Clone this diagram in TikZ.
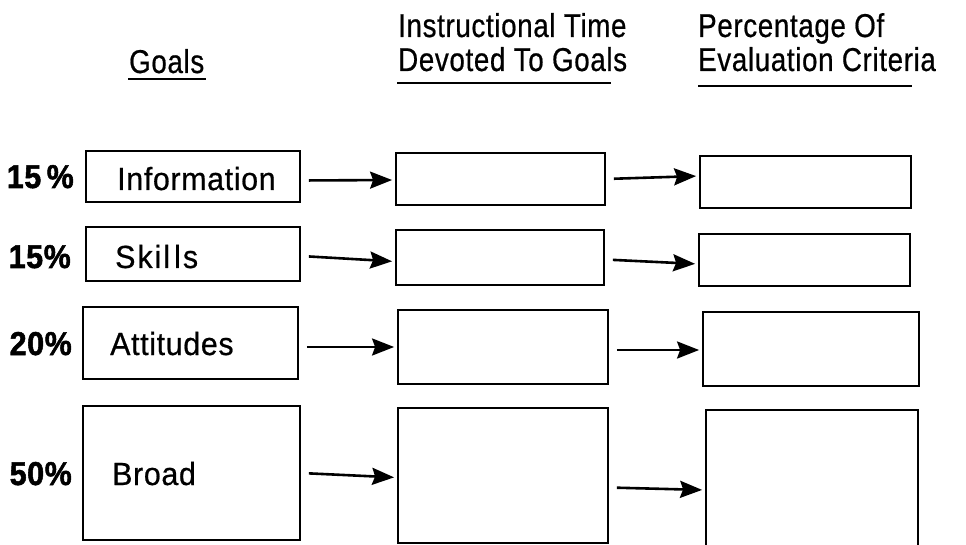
\documentclass[tikz,border=0pt]{standalone}
\usepackage{fontspec}
\setmainfont{Liberation Sans}[FakeStretch=0.84, LetterSpace=2, FakeBold=0.6]
\newfontfamily\labelfont{Liberation Sans}[FakeStretch=0.95, LetterSpace=2, FakeBold=0.6]
\newfontfamily\pctfont{Liberation Sans Bold}[FakeStretch=0.92, LetterSpace=2, FakeBold=1.6]
\usetikzlibrary{arrows.meta}
\newcommand{\lgap}[1]{\kern#1pt}
\begin{document}
\begin{tikzpicture}[x=1pt,y=-1pt,
  box/.style={draw, line width=1.8pt, inner sep=0pt},
  txt/.style={font=\fontsize{33}{34}\selectfont, inner sep=0pt, anchor=base west},
  lbl/.style={font=\labelfont\fontsize{32}{34}\selectfont, inner sep=0pt, anchor=base west},
  pct/.style={font=\pctfont\fontsize{33}{34}\selectfont, inner sep=0pt, anchor=base east},
  arr/.style={line width=2.6pt, -{Stealth[length=22pt,width=17pt,inset=3pt]}, shorten <=8pt, shorten >=3pt},
  uline/.style={line width=1.8pt}]
\useasboundingbox (0,0) rectangle (966,545);

% column headings
\node[txt] (hgoals) at (129,73) {Goals};
\node[txt, align=left] (htime) at (398,71) {Instructional Time\\Devoted To Goals};
\node[txt, align=left] (hcrit) at (698,71) {Percentage Of\\Evaluation Criteria};
\draw[uline] (128,79) -- (206,79);
\draw[uline] (397,83) -- (611,83);
\draw[uline] (698,86) -- (912,86);

% goal boxes
\node[box, minimum width=214pt, minimum height=51pt] (g1) at (193,176.5) {};
\node[box, minimum width=214pt, minimum height=54pt] (g2) at (193,254) {};
\node[box, minimum width=215pt, minimum height=72pt] (g3) at (190.5,343) {};
\node[box, minimum width=217pt, minimum height=134pt] (g4) at (191.5,473) {};
\node[lbl] (t1) at (117,190) {Information};
\node[lbl] (t2) at (115,268) {S\lgap2k\lgap2i\lgap2l\lgap4l\lgap2s};
\node[lbl] (t3) at (110,355) {Attitudes};
\node[lbl] (t4) at (112,485) {Broad};

% percentages
\node[pct] (p1) at (74,188) {15\,\%};
\node[pct] (p2) at (71,268) {15\%};
\node[pct] (p3) at (72,355) {20\%};
\node[pct] (p4) at (72,485) {50\%};

% instructional time boxes
\node[box, minimum width=209pt, minimum height=52pt] (m1) at (500.5,179) {};
\node[box, minimum width=208pt, minimum height=55pt] (m2) at (500,257.5) {};
\node[box, minimum width=210pt, minimum height=74pt] (m3) at (503,347) {};
\node[box, minimum width=210pt, minimum height=135pt] (m4) at (503,475.5) {};

% evaluation criteria boxes
\node[box, minimum width=211pt, minimum height=52pt] (e1) at (805.5,182) {};
\node[box, minimum width=211pt, minimum height=52pt] (e2) at (804.5,260) {};
\node[box, minimum width=216pt, minimum height=74pt] (e3) at (811,349) {};
\node[box, minimum width=212pt, minimum height=140pt] (e4) at (812,480) {};

% connectors
\draw[arr] ([yshift=-4pt]g1.east) -- ([yshift=-1pt]m1.west);
\draw[arr] ([yshift=-2pt]g2.east) -- ([yshift=-4pt]m2.west);
\draw[arr] ([yshift=-4pt]g3.east) -- ([yshift=0pt]m3.west);
\draw[arr] ([yshift=0pt]g4.east) -- ([yshift=-2pt]m4.west);
\draw[arr] ([yshift=0pt]m1.east) -- ([yshift=6pt]e1.west);
\draw[arr] ([yshift=-2pt]m2.east) -- ([yshift=-4pt]e2.west);
\draw[arr] ([yshift=-3pt]m3.east) -- ([yshift=-1pt]e3.west);
\draw[arr] ([yshift=-12pt]m4.east) -- ([yshift=-10pt]e4.west);
\end{tikzpicture}
\end{document}
